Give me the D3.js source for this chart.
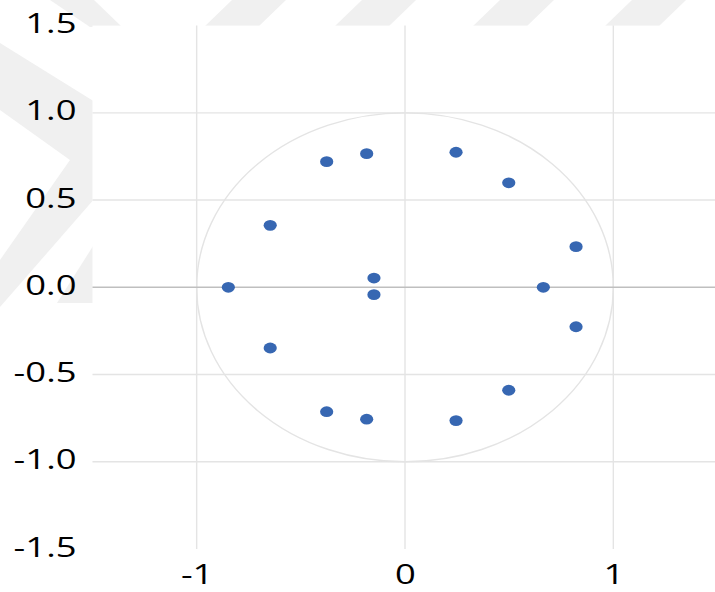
<!DOCTYPE html>
<html>
<head>
<meta charset="utf-8">
<script src="https://cdn.jsdelivr.net/npm/d3@7"></script>
<style>
  body { margin: 0; background: #fff; }
  svg { display: block; }
  .tick text { font-family: "Open Sans", sans-serif; font-size: 28px; }
</style>
</head>
<body>
<script>
var re = [-0.376, -0.647, -0.848, -0.184, 0.245, 0.498, 0.821, -0.149, -0.149, 0.664, -0.647, -0.376, 0.821, 0.498, -0.184, 0.245];
var im = [0.720, 0.355, 0.0, 0.766, 0.774, 0.599, 0.233, 0.053, -0.042, 0.0, -0.348, -0.713, -0.226, -0.590, -0.756, -0.764];

var xTicks = [-1, 0, 1];
var yTicks = [-1.5, -1.0, -0.5, 0.0, 0.5, 1.0, 1.5];
var yGrid = [-1.0, -0.5, 0.5, 1.0];

var W = 715, H = 592;

var svg = d3.select('body').append('svg')
  .attr('width', W)
  .attr('height', H);

// faint watermark behind the chart
var wm = svg.append('g').attr('fill', '#f0f0f0');
wm.append('polygon').attr('points', '50,0 94,0 122,27 90,27');
wm.append('polygon').attr('points', '0,43 95,102 95,198 0,307 0,260 70,160 0,110');
wm.append('polygon').attr('points', '95,243 95,303 57,303');
[204, 334, 472, 604].forEach(function(s) {
  wm.append('polygon').attr('points', s + ',27 ' + (s + 28) + ',0 ' + (s + 82) + ',0 ' + (s + 54) + ',27');
});

var x = d3.scaleLinear().domain([-1.5, 1.5]).range([92.5, 717.5]);
var y = d3.scaleLinear().domain([-1.5, 1.5]).range([549, 25.6]);

// plot area
svg.append('rect')
  .attr('x', x(-1.5))
  .attr('y', y(1.5))
  .attr('width', W - x(-1.5))
  .attr('height', y(-1.5) - y(1.5))
  .attr('fill', '#fff');

// grid
svg.append('g').selectAll('line')
  .data(xTicks).enter().append('line')
  .attr('x1', function(d) { return x(d); })
  .attr('x2', function(d) { return x(d); })
  .attr('y1', y(1.5)).attr('y2', y(-1.5))
  .attr('stroke', '#e4e4e4').attr('stroke-width', 1.4);

svg.append('g').selectAll('line')
  .data(yGrid).enter().append('line')
  .attr('x1', x(-1.5)).attr('x2', W)
  .attr('y1', function(d) { return y(d); })
  .attr('y2', function(d) { return y(d); })
  .attr('stroke', '#e4e4e4').attr('stroke-width', 1.4);

// unit circle
svg.append('ellipse')
  .attr('cx', x(0)).attr('cy', y(0))
  .attr('rx', x(1) - x(0)).attr('ry', y(0) - y(1))
  .attr('fill', 'none')
  .attr('stroke', '#e4e4e4').attr('stroke-width', 1.4);

// zero line
svg.append('line')
  .attr('x1', x(-1.5)).attr('x2', W)
  .attr('y1', y(0)).attr('y2', y(0))
  .attr('stroke', '#bfbfbf').attr('stroke-width', 1.6);

// axes (labels only)
var yAxis = d3.axisLeft(y).tickValues(yTicks).tickSize(0)
  .tickFormat(function(d) { return d.toFixed(1); });
var gy = svg.append('g')
  .attr('transform', 'translate(' + x(-1.5) + ',0)')
  .call(yAxis);
gy.select('.domain').remove();
gy.selectAll('text')
  .attr('x', 0).attr('dy', null)
  .attr('transform', 'translate(-16,7) scale(1.3,1)');

var xAxis = d3.axisBottom(x).tickValues(xTicks).tickSize(0)
  .tickFormat(function(d) { return String(d); });
var gx = svg.append('g')
  .attr('transform', 'translate(0,' + y(-1.5) + ')')
  .call(xAxis);
gx.select('.domain').remove();
gx.selectAll('text')
  .attr('y', 0).attr('dy', null)
  .attr('transform', 'translate(0,35) scale(1.3,1)');

svg.selectAll('.tick text').attr('fill', '#000');

// points
svg.append('g').selectAll('ellipse')
  .data(re).enter().append('ellipse')
  .attr('cx', function(d) { return x(d); })
  .attr('cy', function(d, i) { return y(im[i]); })
  .attr('rx', 6.6).attr('ry', 5.4)
  .attr('fill', '#3767b2');
</script>
</body>
</html>
